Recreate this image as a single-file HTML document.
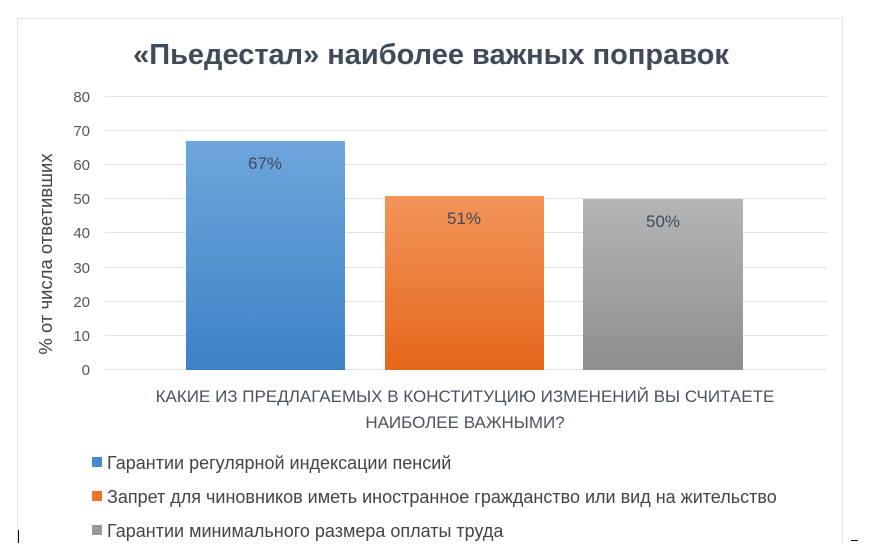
<!DOCTYPE html>
<html><head><meta charset="utf-8"><style>
body{margin:0;background:#fff;width:887px;height:543px;overflow:hidden;font-family:"Liberation Sans",sans-serif;}
</style></head><body>
<svg width="887" height="543" xmlns="http://www.w3.org/2000/svg" style="font-family:'Liberation Sans',sans-serif">
<defs>
<linearGradient id="b" x1="0" y1="0" x2="0" y2="1"><stop offset="0" stop-color="#6ea6dc"/><stop offset="1" stop-color="#3d82c6"/></linearGradient>
<linearGradient id="o" x1="0" y1="0" x2="0" y2="1"><stop offset="0" stop-color="#f2955a"/><stop offset="1" stop-color="#e5661a"/></linearGradient>
<linearGradient id="g" x1="0" y1="0" x2="0" y2="1"><stop offset="0" stop-color="#b5b5b5"/><stop offset="1" stop-color="#8e8e8e"/></linearGradient>
</defs>
<rect x="17.5" y="18.5" width="825" height="540" fill="#fff" stroke="#e3e3e3"/>
<text x="431" y="64" text-anchor="middle" font-size="29" font-weight="bold" fill="#414a59">«Пьедестал» наиболее важных поправок</text>
<g stroke="#e3e3e3" stroke-width="1">
<line x1="105" x2="827" y1="96.5" y2="96.5"/><line x1="105" x2="827" y1="130.5" y2="130.5"/>
<line x1="105" x2="827" y1="164.5" y2="164.5"/><line x1="105" x2="827" y1="198.5" y2="198.5"/>
<line x1="105" x2="827" y1="232.5" y2="232.5"/><line x1="105" x2="827" y1="267.5" y2="267.5"/>
<line x1="105" x2="827" y1="301.5" y2="301.5"/><line x1="105" x2="827" y1="335.5" y2="335.5"/>
<line x1="105" x2="827" y1="369.5" y2="369.5"/></g>
<g font-size="15" fill="#555" text-anchor="end">
<text x="90" y="102">80</text><text x="90" y="136">70</text><text x="90" y="170">60</text><text x="90" y="204">50</text><text x="90" y="238">40</text><text x="90" y="273">30</text><text x="90" y="307">20</text><text x="90" y="341">10</text><text x="90" y="375">0</text></g>
<text transform="translate(52,254) rotate(-90)" text-anchor="middle" font-size="18.5" fill="#444">% от числа ответивших</text>
<rect x="186" y="141" width="159" height="229" fill="url(#b)"/>
<rect x="385" y="196" width="159" height="174" fill="url(#o)"/>
<rect x="583" y="199" width="160" height="171" fill="url(#g)"/>
<g font-size="17" fill="#404a58" text-anchor="middle">
<text x="265" y="169">67%</text><text x="464" y="224">51%</text><text x="663" y="227">50%</text></g>
<g font-size="17" fill="#4a5260" text-anchor="middle">
<text x="465" y="402">КАКИЕ ИЗ ПРЕДЛАГАЕМЫХ В КОНСТИТУЦИЮ ИЗМЕНЕНИЙ ВЫ СЧИТАЕТЕ</text>
<text x="465" y="428">НАИБОЛЕЕ ВАЖНЫМИ?</text></g>
<g font-size="18" fill="#444">
<rect x="92" y="457" width="10" height="10" fill="#4a8ad0"/><text x="107" y="469">Гарантии регулярной индексации пенсий</text>
<rect x="92" y="491" width="10" height="10" fill="#ec7327"/><text x="107" y="503">Запрет для чиновников иметь иностранное гражданство или вид на жительство</text>
<rect x="92" y="525" width="10" height="10" fill="#999"/><text x="107" y="537">Гарантии минимального размера оплаты труда</text></g>
<line x1="18.5" y1="530" x2="18.5" y2="543" stroke="#000"/>
<line x1="851" y1="540.5" x2="858" y2="540.5" stroke="#000"/>
</svg>
</body></html>
